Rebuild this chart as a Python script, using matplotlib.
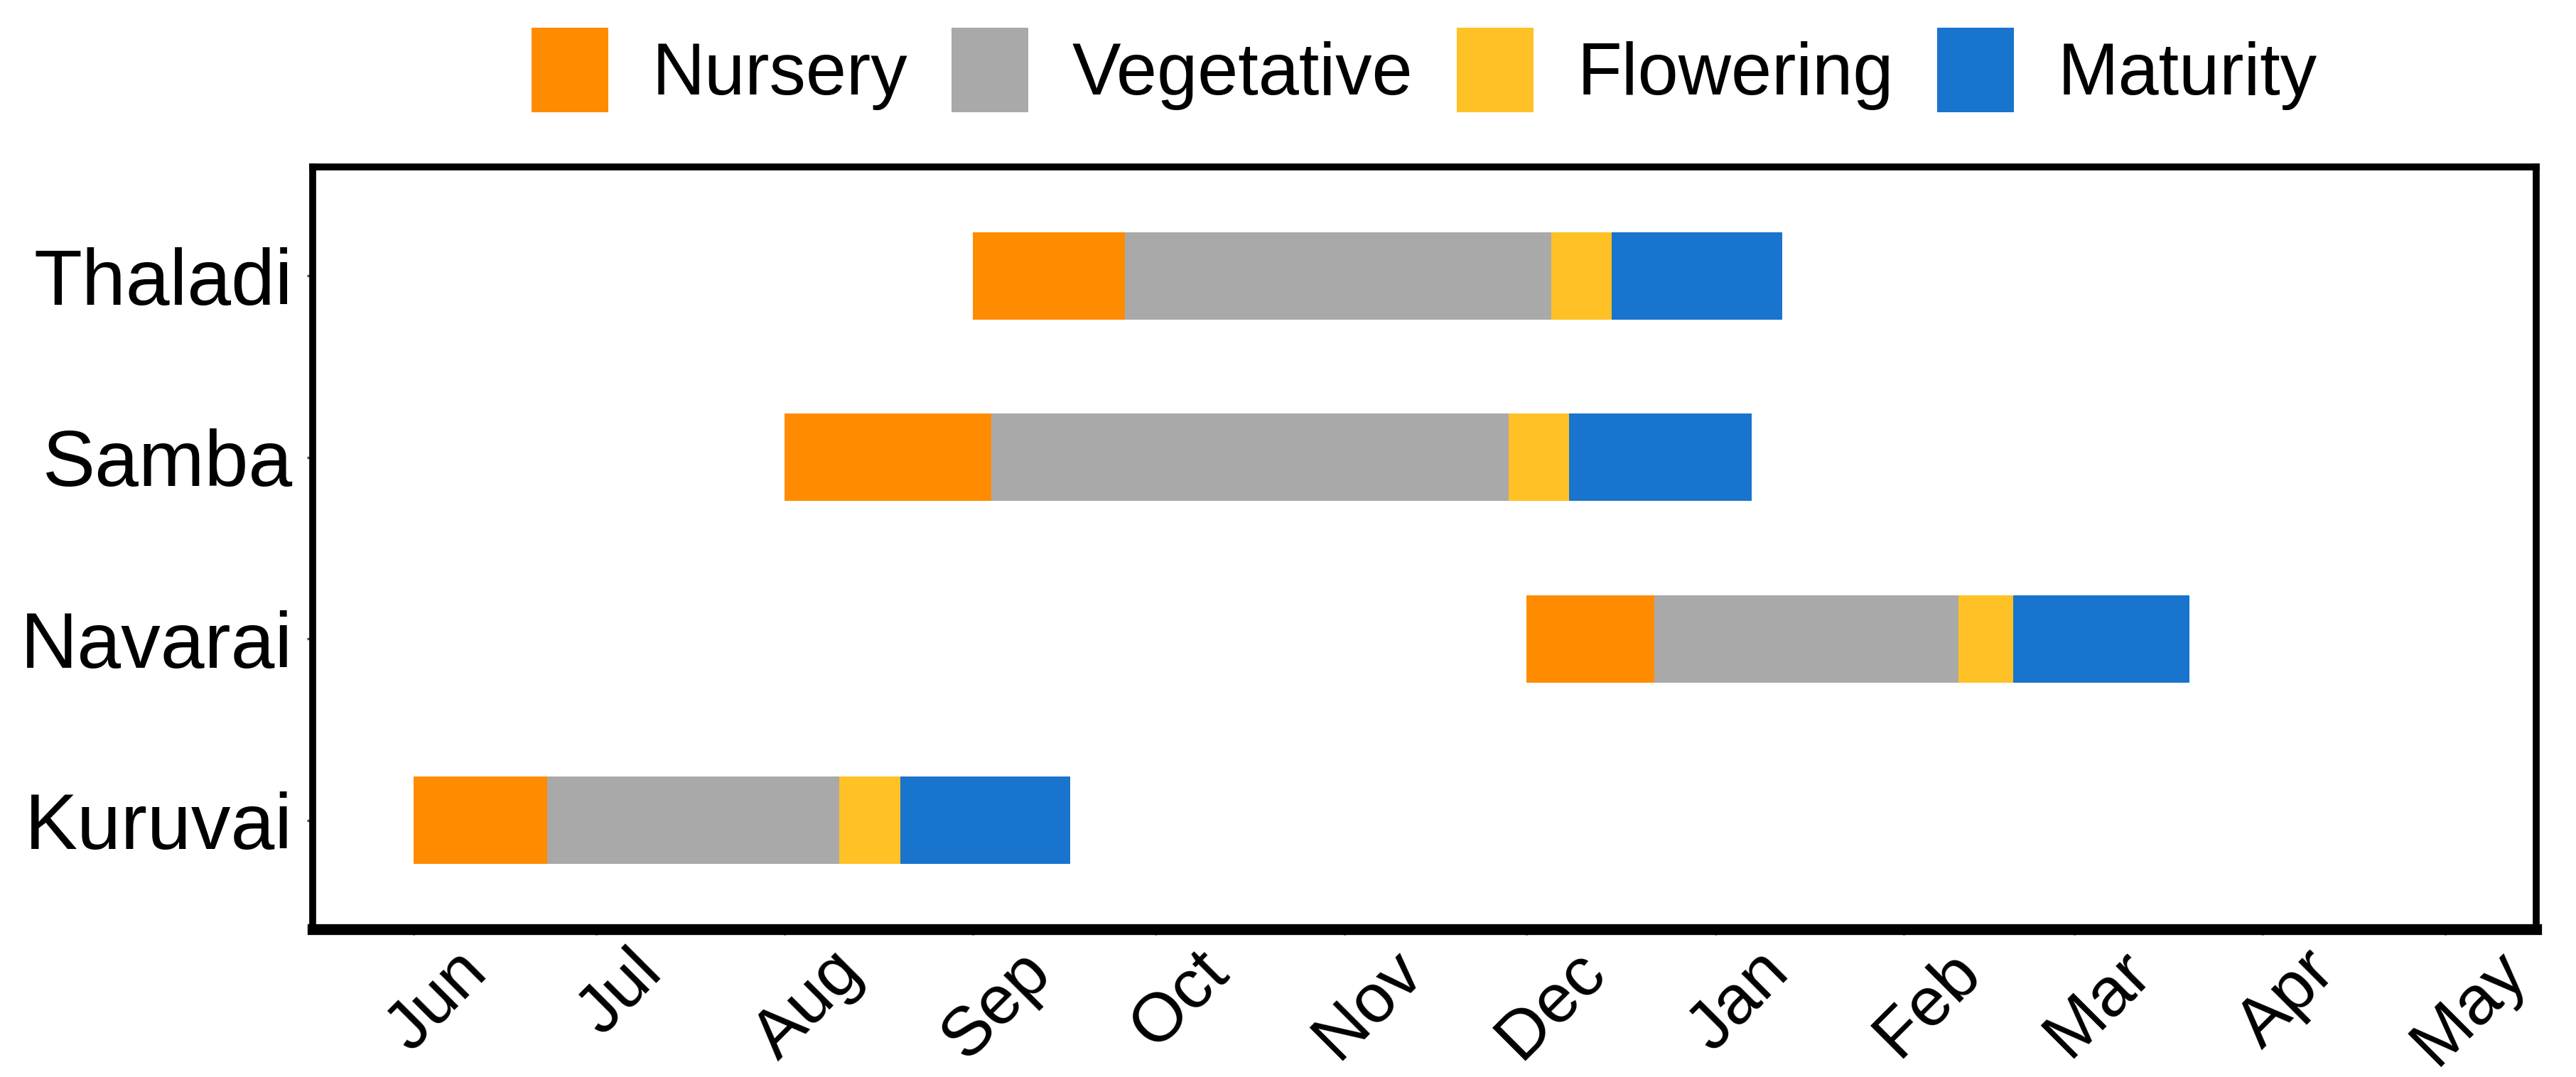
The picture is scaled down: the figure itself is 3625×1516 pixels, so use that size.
import pandas as pd
import numpy as np
import matplotlib
matplotlib.use("Agg")
import matplotlib.pyplot as plt
import matplotlib.dates as mdates
import matplotlib.transforms as mtransforms
from matplotlib.patches import Patch

plt.rcParams['font.family'] = ['Liberation Sans', 'DejaVu Sans']

# crop seasons, bottom to top
seasons = ["Kuruvai", "Navarai", "Samba", "Thaladi"]

# stage boundaries
nursery_start = ["2022-06-01", "2022-12-01", "2022-08-01", "2022-09-01"]
vegetative_start = ["2022-06-23", "2022-12-22", "2022-09-04", "2022-09-26"]
flowering_start = ["2022-08-10", "2023-02-10", "2022-11-28", "2022-12-05"]
maturity_start = ["2022-08-20", "2023-02-19", "2022-12-08", "2022-12-15"]
harvest = ["2022-09-17", "2023-03-20", "2023-01-07", "2023-01-12"]

stages = ["Nursery", "Vegetative", "Flowering", "Maturity"]
colors = ["#FF8C00", "#A9A9A9", "#FFC125", "#1874CD"]

bounds = [nursery_start, vegetative_start, flowering_start, maturity_start, harvest]
bounds = [mdates.date2num(pd.to_datetime(b)) for b in bounds]

fig = plt.figure(figsize=(18.125, 7.58), dpi=200)
ax = fig.add_axes([0.1214, 0.1372, 0.8632, 0.7078])

y = np.arange(1, len(seasons) + 1)
for i, stage in enumerate(stages):
    ax.barh(y, bounds[i + 1] - bounds[i], left=bounds[i], height=0.48,
            color=colors[i], label=stage, linewidth=0)

ax.set_ylim(0.4, 4.6)
ax.set_xlim(mdates.date2num(pd.Timestamp("2022-05-15 10:00")),
            mdates.date2num(pd.Timestamp("2023-05-16")))
ax.set_yticks(y)
ax.set_yticklabels(seasons, fontsize=40)

ax.xaxis.set_major_locator(mdates.MonthLocator())
ax.xaxis.set_major_formatter(mdates.DateFormatter("%b"))
ax.tick_params(axis="both", colors="#555555", length=3, width=1.2, labelcolor="black")
ax.tick_params(axis="y", pad=7)
ax.tick_params(axis="x", labelsize=35, pad=2)
offset = mtransforms.ScaledTranslation(0.17, 0, fig.dpi_scale_trans)
for lab in ax.get_xticklabels():
    lab.set_rotation(45)
    lab.set_ha("center")
    lab.set_va("top")
    lab.set_transform(lab.get_transform() + offset)

for side in ["top", "left", "right"]:
    ax.spines[side].set_linewidth(3.5)
    ax.spines[side].set_color("black")
ax.spines["bottom"].set_linewidth(5.5)
ax.spines["bottom"].set_color("black")

handles = [Patch(facecolor=c, edgecolor="none") for c in colors]
fig.legend(handles, stages, loc="center", bbox_to_anchor=(0.553, 0.935), ncol=4,
           frameon=False, fontsize=37, handlelength=1.05, handleheight=1.4,
           handletextpad=0.6, columnspacing=0.6, borderaxespad=0)

fig.savefig("out.png", dpi=200)
